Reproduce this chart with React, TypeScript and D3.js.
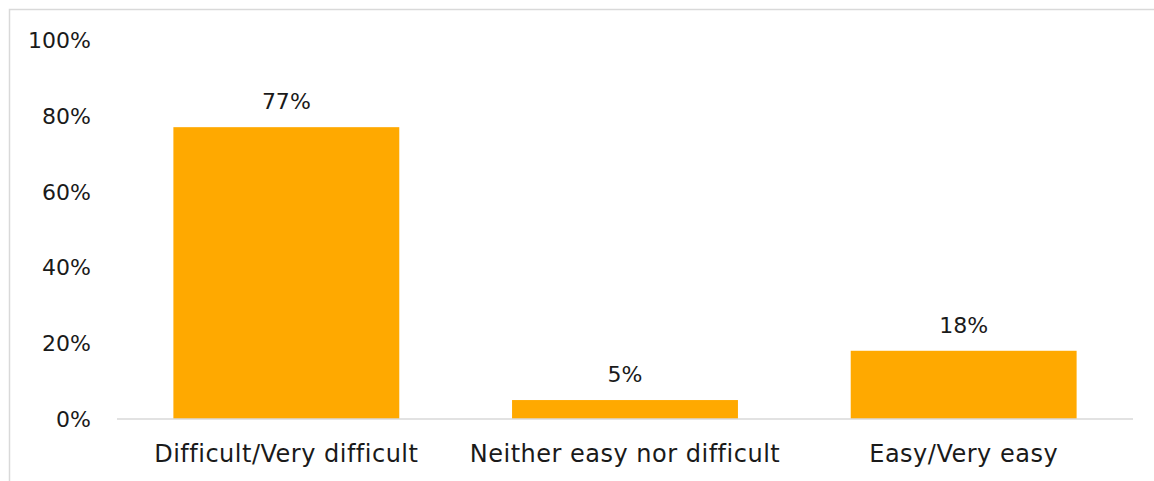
import React from "react";
import * as d3 from "d3";

const categories = ["Difficult/Very difficult", "Neither easy nor difficult", "Easy/Very easy"];
const values = [77, 5, 18];
const yTicks = [0, 20, 40, 60, 80, 100];

const W = 1154;
const H = 481;
const margin = { left: 117, right: 21, top: 40, bottom: 62 };

export default function App() {
  const x = d3
    .scaleBand<string>()
    .domain(categories)
    .range([margin.left, W - margin.right])
    .paddingInner(0.333)
    .paddingOuter(0.1665);
  const y = d3.scaleLinear().domain([0, 100]).range([H - margin.bottom, margin.top]);
  const font = "'DejaVu Sans', sans-serif";
  return (
    <svg
      width={W}
      height={H}
      style={{ position: "absolute", left: 0, top: 0, display: "block" }}
      fontFamily={font}
    >
      <rect x={9.5} y={9.5} width={W + 20} height={H + 20} fill="white" stroke="#d9d9d9" strokeWidth={1.5} />
      {categories.map((c, i) => (
        <rect
          key={c}
          x={x(c)}
          y={y(values[i])}
          width={x.bandwidth()}
          height={y(0) - y(values[i])}
          fill="#FFA900"
        />
      ))}
      <line x1={margin.left} x2={W - margin.right} y1={y(0)} y2={y(0)} stroke="#d9d9d9" strokeWidth={1.5} />
      {yTicks.map((t) => (
        <text key={t} x={91} y={y(t)} dy="0.36em" textAnchor="end" fontSize={22} fill="#1a1a1a">
          {t}%
        </text>
      ))}
      {categories.map((c, i) => (
        <text
          key={c + "l"}
          x={(x(c) as number) + x.bandwidth() / 2}
          y={y(values[i]) - 18}
          textAnchor="middle"
          fontSize={22}
          fill="#1a1a1a"
        >
          {values[i]}%
        </text>
      ))}
      {categories.map((c) => (
        <text
          key={c + "c"}
          x={(x(c) as number) + x.bandwidth() / 2}
          y={462}
          textAnchor="middle"
          fontSize={24}
          letterSpacing={0.5}
          fill="#1a1a1a"
        >
          {c}
        </text>
      ))}
    </svg>
  );
}
